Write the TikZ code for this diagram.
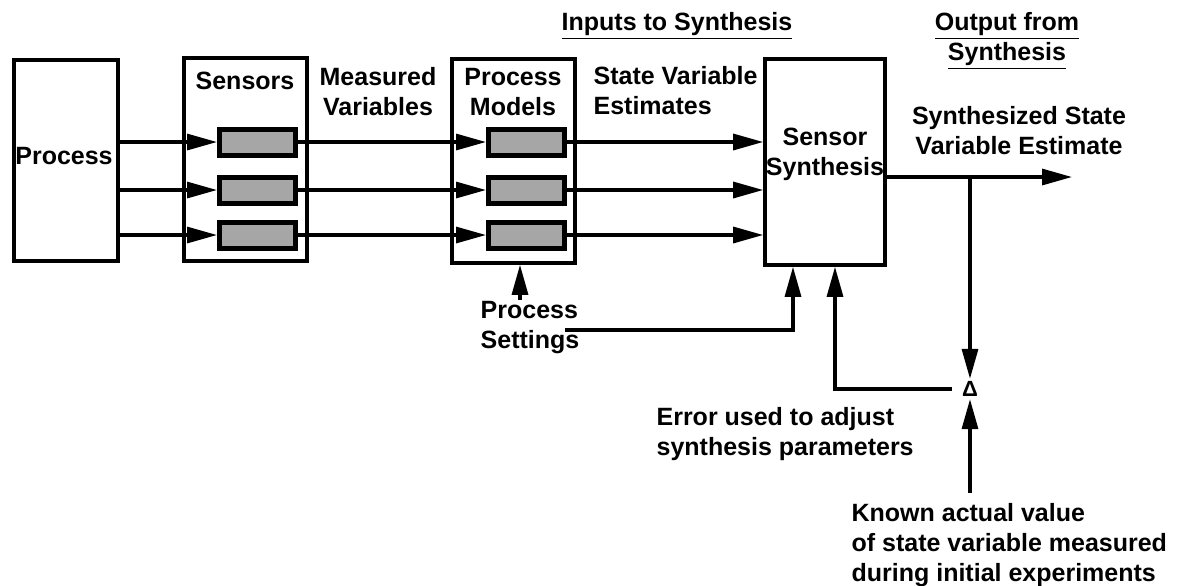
\documentclass[tikz,border=0pt]{standalone}
\usepackage{fontspec}
\setmainfont{Liberation Sans}
\usetikzlibrary{arrows.meta}

\begin{document}
\begin{tikzpicture}[->,>={Triangle[length=15pt,width=8pt]},x=0.5pt,y=-0.5pt,
	line width=1.6pt,font=\fontsize{12.5}{15}\selectfont\bfseries,
	main box/.style={rectangle,draw,line width=1.8pt,inner sep=0pt},
	sensor box/.style={rectangle,draw,line width=2.5pt,fill=black!35,
		minimum width=38pt,minimum height=13pt,inner sep=0pt},
	lbl/.style={inner sep=0pt,align=center}]

	\useasboundingbox (0,0) rectangle (1179,585);

	% blocks
	\node[main box,minimum width=52pt,minimum height=100.5pt] (proc) at (66,160.5) {};
	\node[main box,minimum width=61.5pt,minimum height=101.5pt] (sens) at (245.5,159.5) {};
	\node[main box,minimum width=61.5pt,minimum height=102pt] (models) at (513.5,161) {};
	\node[main box,minimum width=60pt,minimum height=103pt] (synth) at (825,162) {};

	\node[sensor box] (s1) at (257.5,142) {};
	\node[sensor box] (s2) at (257.5,190) {};
	\node[sensor box] (s3) at (257.5,235) {};
	\node[sensor box] (m1) at (526.5,142) {};
	\node[sensor box] (m2) at (526.5,190) {};
	\node[sensor box] (m3) at (526.5,235) {};

	% texts
	\node[lbl] (proct) at (64,156) {Process};
	\node[lbl] (senst) at (245,81) {Sensors};
	\node[lbl] (meas) at (378,92) {Measured\\Variables};
	\node[lbl] (modt) at (513,92) {Process\\Models};
	\node[lbl,align=left,anchor=west] (est) at (592,91) {State Variable\\Estimates};
	\node[lbl] (synt) at (825,154) {Sensor\\Synthesis};
	\node[lbl,anchor=base] (inp) at (677,30) {\underline{Inputs to Synthesis}};
	\node[lbl] (outp) at (1007,41) {\underline{Output from}\\\underline{Synthesis}};
	\node[lbl] (synest) at (1019,131) {Synthesized State\\Variable Estimate};
	\node[lbl,align=left] (set) at (530,328) {Process\\Settings};
	\node[lbl,align=left,anchor=west] (err) at (655,434) {Error used to adjust\\synthesis parameters};
	\node[lbl,align=left,anchor=west] (known) at (850,545) {Known actual value\\of state variable measured\\during initial experiments};
	\node[inner sep=0.5pt,font=\fontsize{11}{12}\selectfont\bfseries] (delta) at (970,389) {Δ};

	\coordinate (br) at (970,177);
	\coordinate (outend) at (1072,177);
	\coordinate (kn) at (970,493);
	\coordinate (setr) at (565,330);
	\coordinate (setup) at (520,300);

	\path
	(proc.east |- s1) edge (s1)
	(proc.east |- s2) edge (s2)
	(proc.east |- s3) edge (s3)
	(s1) edge (m1)
	(s2) edge (m2)
	(s3) edge (m3)
	(m1) edge (m1 -| synth.west)
	(m2) edge (m2 -| synth.west)
	(m3) edge (m3 -| synth.west);

	\draw (synth.east |- br) -- (outend);
	\draw (br) -- (delta.north);
	\draw (kn) -- (delta.south);
	\draw ([xshift=-4pt]delta.west) -| ([xshift=5pt]synth.south);
	\draw (setr) -| ([xshift=-16pt]synth.south);
	\draw (setup) -- (setup |- models.south);
\end{tikzpicture}
\end{document}
